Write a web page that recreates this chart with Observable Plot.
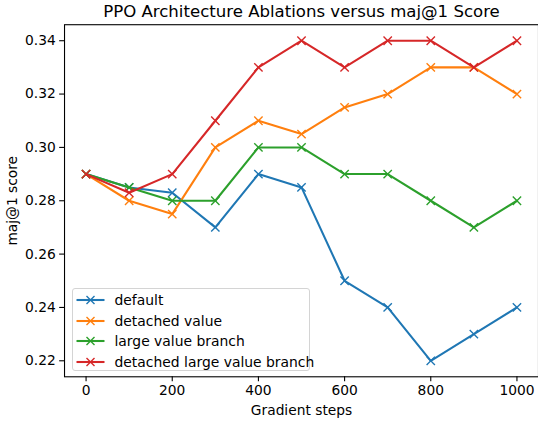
<!DOCTYPE html>
<html>
<head>
<meta charset="utf-8">
<script src="https://cdn.jsdelivr.net/npm/d3@7"></script>
<script src="https://cdn.jsdelivr.net/npm/@observablehq/plot@0.6"></script>
<style>
  html, body { margin: 0; padding: 0; background: white; overflow: hidden; }
  #wrap { position: relative; width: 538px; height: 424px; overflow: hidden; }
  #legend {
    position: absolute; left: 71.5px; top: 288px; width: 238px; height: 83px;
    box-sizing: border-box; border: 1px solid #d4d4d4; border-radius: 3px;
    background: rgba(255,255,255,0.8);
    font-family: "DejaVu Sans", sans-serif; font-size: 13.9px; color: #000;
  }
  .row { position: absolute; left: 0; height: 20px; display: flex; align-items: center; }
  .row svg { margin-left: 3px; }
  .row span { margin-left: 10px; white-space: nowrap; }
</style>
</head>
<body>
<div id="wrap"><div id="legend"></div></div>
<script>
const title = "PPO Architecture Ablations versus maj@1 Score";
const xLabel = "Gradient steps";
const yLabel = "maj@1 score";
const steps = [0, 100, 200, 300, 400, 500, 600, 700, 800, 900, 1000];
const seriesNames = ["default", "detached value", "large value branch", "detached large value branch"];
const defaultScores = [0.29, 0.285, 0.283, 0.27, 0.29, 0.285, 0.25, 0.24, 0.22, 0.23, 0.24];
const detachedValueScores = [0.29, 0.28, 0.275, 0.30, 0.31, 0.305, 0.315, 0.32, 0.33, 0.33, 0.32];
const largeValueBranchScores = [0.29, 0.285, 0.28, 0.28, 0.30, 0.30, 0.29, 0.29, 0.28, 0.27, 0.28];
const detachedLargeScores = [0.29, 0.283, 0.29, 0.31, 0.33, 0.34, 0.33, 0.34, 0.34, 0.33, 0.34];
const colors = ["#1f77b4", "#ff7f0e", "#2ca02c", "#d62728"];
const xTicks = [0, 200, 400, 600, 800, 1000];
const yTicks = [0.22, 0.24, 0.26, 0.28, 0.30, 0.32, 0.34];

const allScores = [defaultScores, detachedValueScores, largeValueBranchScores, detachedLargeScores];
const data = seriesNames.flatMap((name, i) =>
  steps.map((s, j) => ({series: name, step: s, score: allScores[i][j]})));

const seriesMarks = seriesNames.flatMap((name) => {
  const d = data.filter(r => r.series === name);
  return [
    Plot.lineY(d, {x: "step", y: "score", stroke: "series", strokeWidth: 2.08}),
    Plot.dot(d, {x: "step", y: "score", stroke: "series", symbol: "times", r: 3.9, strokeWidth: 1.39})
  ];
});

const chart = Plot.plot({
  width: 542, height: 424,
  marginLeft: 64.5, marginRight: 0, marginTop: 24.4, marginBottom: 44.9,
  x: {domain: [-50, 1050]},
  y: {domain: [0.214, 0.346]},
  color: {domain: seriesNames, range: colors},
  style: {fontFamily: "DejaVu Sans", fontSize: "13.9px", color: "#000", background: "white", overflow: "visible"},
  marks: [
    ...seriesMarks,
    Plot.frame({stroke: "#000", strokeWidth: 1.1}),
    Plot.axisX({ticks: xTicks, tickSize: 4.9, tickPadding: 4, tickFormat: d3.format("d"), label: null, fontSize: 13.9, strokeWidth: 1.1}),
    Plot.axisY({ticks: yTicks, tickSize: 4.9, tickPadding: 4, tickFormat: d3.format(".2f"), label: null, fontSize: 13.9, strokeWidth: 1.1}),
    Plot.text([xLabel], {frameAnchor: "bottom", lineAnchor: "middle", textAnchor: "middle", dy: 34, fontSize: 13.9, fill: "#000"}),
    Plot.text([yLabel], {frameAnchor: "left", lineAnchor: "middle", textAnchor: "middle", dx: -52, rotate: -90, fontSize: 13.9, fill: "#000"}),
    Plot.text([title], {frameAnchor: "top", lineAnchor: "middle", textAnchor: "middle", dy: -13, fontSize: 16.7, fill: "#000"})
  ]
});
document.getElementById("wrap").prepend(chart);

const legend = document.getElementById("legend");
seriesNames.forEach((name, i) => {
  const row = document.createElement("div");
  row.className = "row";
  row.style.top = (1 + i * 20.5) + "px";
  row.innerHTML = `<svg width="29" height="12"><line x1="0.5" y1="6" x2="28.5" y2="6" stroke="${colors[i]}" stroke-width="2.08"/>` +
    `<path d="M10.5,2 L18.5,10 M18.5,2 L10.5,10" stroke="${colors[i]}" stroke-width="1.39"/></svg><span>${name}</span>`;
  legend.appendChild(row);
});
</script>
</body>
</html>
